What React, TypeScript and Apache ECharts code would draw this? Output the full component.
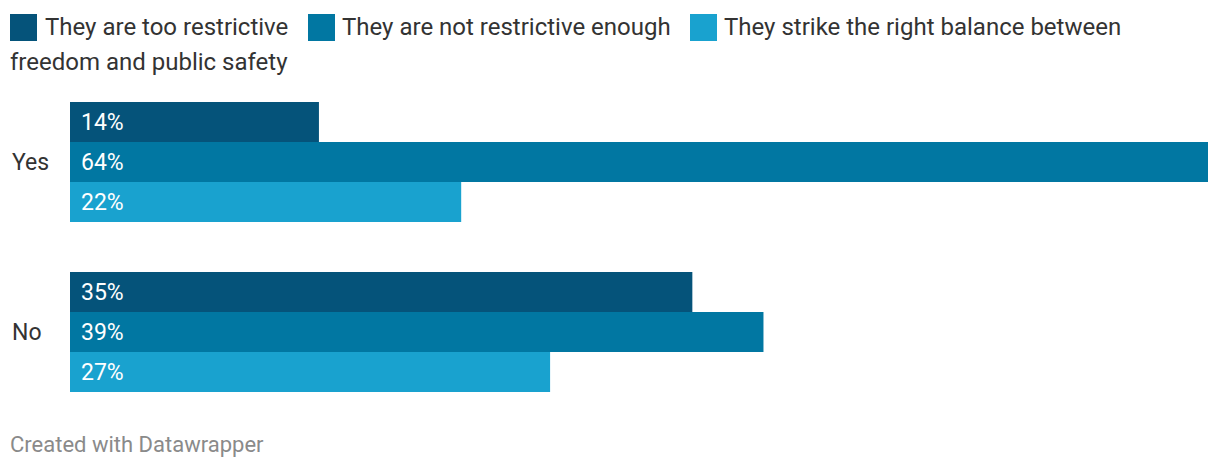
import React, { useEffect, useRef } from "react";
import * as echarts from "echarts";

const categories = ["Yes", "No"];
const seriesNames = [
  "They are too restrictive",
  "They are not restrictive enough",
  "They strike the right balance between freedom and public safety",
];
const tooRestrictive = [14, 35];
const notEnough = [64, 39];
const rightBalance = [22, 27];
const colors = ["#05537a", "#0177a2", "#19a2cf"];

const FONT = "Roboto, 'Noto Sans', sans-serif";

export default function App() {
  const ref = useRef<HTMLDivElement>(null);
  useEffect(() => {
    if (!ref.current) return;
    const chart = echarts.init(ref.current, undefined, { renderer: "svg" });
    const values = [tooRestrictive, notEnough, rightBalance];
    const squareX = [10, 308, 690];
    const graphics: any[] = [];
    squareX.forEach((sx, i) => {
      graphics.push({
        type: "rect",
        x: sx,
        y: 14,
        shape: { width: 27, height: 27 },
        style: { fill: colors[i] },
      });
    });
    const txt = (x: number, y: number, text: string, size: number, fill: string) => ({
      type: "text",
      x,
      y,
      style: { text, fontSize: size, fontFamily: FONT, fill, verticalAlign: "middle", align: "left" },
    });
    graphics.push(txt(45, 27, seriesNames[0], 24, "#333"));
    graphics.push(txt(342, 27, seriesNames[1], 24, "#333"));
    graphics.push(txt(724, 27, "They strike the right balance between", 24, "#333"));
    graphics.push(txt(10, 62, "freedom and public safety", 24, "#333"));
    graphics.push(txt(10, 444, "Created with Datawrapper", 22, "#8a8a8a"));

    chart.setOption({
      animation: false,
      textStyle: { fontFamily: FONT },
      grid: { left: 70, right: 12, top: 77, height: 340 },
      xAxis: {
        type: "value",
        min: 0,
        max: 64,
        show: false,
      },
      yAxis: {
        type: "category",
        data: categories,
        inverse: true,
        axisLine: { show: false },
        axisTick: { show: false },
        axisLabel: {
          align: "left",
          margin: 58,
          fontSize: 23,
          color: "#333",
          fontFamily: FONT,
        },
      },
      graphic: graphics,
      series: values.map((v, i) => ({
        type: "bar",
        name: seriesNames[i],
        data: v,
        barWidth: 40,
        barGap: "0%",
        itemStyle: { color: colors[i] },
        label: {
          show: true,
          position: "insideLeft",
          distance: 11,
          formatter: "{c}%",
          color: "#fff",
          fontSize: 23,
          fontFamily: FONT,
        },
      })),
    });
    return () => chart.dispose();
  }, []);
  return <div ref={ref} style={{ width: 1220, height: 470, position: "absolute", left: 0, top: 0 }} />;
}
